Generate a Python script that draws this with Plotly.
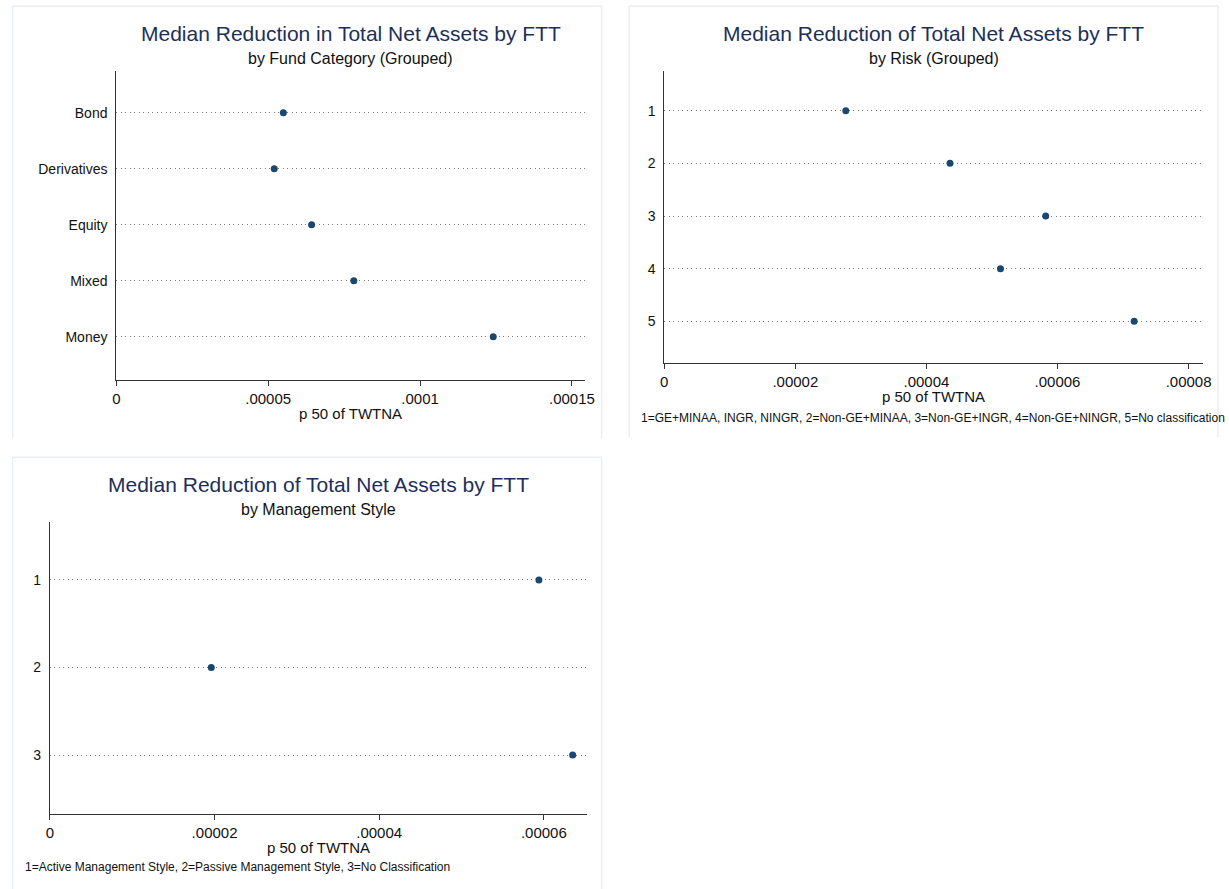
import plotly.graph_objects as go

W, H = 1229, 889

# ---- data ----
fund_categories = ["Bond", "Derivatives", "Equity", "Mixed", "Money"]
fund_p50 = [0.0000550, 0.0000520, 0.0000643, 0.0000782, 0.0001241]

risk_groups = ["1", "2", "3", "4", "5"]
risk_p50 = [0.0000277, 0.0000436, 0.0000582, 0.0000513, 0.0000717]

style_groups = ["1", "2", "3"]
style_p50 = [0.0000594, 0.0000196, 0.0000635]

fund_xticks = [0, 0.00005, 0.0001, 0.00015]
fund_xticklabels = ["0", ".00005", ".0001", ".00015"]
risk_xticks = [0, 0.00002, 0.00004, 0.00006, 0.00008]
risk_xticklabels = ["0", ".00002", ".00004", ".00006", ".00008"]
style_xticks = [0, 0.00002, 0.00004, 0.00006]
style_xticklabels = ["0", ".00002", ".00004", ".00006"]

titles = [
    "Median Reduction in Total Net Assets by FTT",
    "Median Reduction of Total Net Assets by FTT",
    "Median Reduction of Total Net Assets by FTT",
]
subtitles = ["by Fund Category (Grouped)", "by Risk (Grouped)", "by Management Style"]
xtitle = "p 50 of TWTNA"
risk_note = ("1=GE+MINAA, INGR, NINGR, 2=Non-GE+MINAA, 3=Non-GE+INGR, "
             "4=Non-GE+NINGR, 5=No classification")
style_note = "1=Active Management Style, 2=Passive Management Style, 3=No Classification"

# ---- style ----
FONT = "Arial, 'Liberation Sans', sans-serif"
DOT = "#1a476f"
TITLE_C = "#1c2f5c"
AXIS_C = "#333333"
GRID_C = "#7a7a7a"
BORDER_C = "#e9eef2"


def px_x(p):
    return p / W


def px_y(p):
    return 1 - p / H


# panel geometry in pixels: (x0, x1, ytop, ybottom)
panels = [
    dict(x0=113.5, x1=587.5, yt=70.7, yb=380.0, xr=[0, 0.0001544], yr=[5.773, 0.25]),
    dict(x0=667.3, x1=1211.7, yt=70.7, yb=362.7, xr=[0, 0.00008218], yr=[5.786, 0.24]),
    dict(x0=46.4, x1=589.3, yt=521.7, yb=814.0, xr=[0, 0.00006525], yr=[3.674, 0.334]),
]

cats = [fund_categories, risk_groups, style_groups]
vals = [fund_p50, risk_p50, style_p50]
xticks = [fund_xticks, risk_xticks, style_xticks]
xticklabels = [fund_xticklabels, risk_xticklabels, style_xticklabels]

fig = go.Figure()
layout = {}
annotations = []

for i in range(3):
    sfx = "" if i == 0 else str(i + 1)
    p = panels[i]
    ypos = list(range(1, len(cats[i]) + 1))
    fig.add_trace(go.Scatter(
        x=vals[i], y=ypos, mode="markers",
        marker=dict(color=DOT, size=7),
        xaxis="x" + sfx, yaxis="y" + sfx, showlegend=False,
        hovertemplate="%{x}<extra></extra>",
    ))
    layout["xaxis" + sfx] = dict(
        domain=[px_x(p["x0"]), px_x(p["x1"])],
        anchor="y" + sfx, range=p["xr"],
        tickvals=xticks[i], ticktext=xticklabels[i],
        showline=True, linecolor=AXIS_C, linewidth=1,
        ticks="outside", ticklen=5, tickcolor=AXIS_C, tickwidth=1,
        showgrid=False, zeroline=False,
        tickfont=dict(family=FONT, size=15, color="#111111"),
        ticklabelstandoff=0,
    )
    layout["yaxis" + sfx] = dict(
        domain=[px_y(p["yb"]), px_y(p["yt"])],
        anchor="x" + sfx, range=p["yr"],
        tickvals=ypos, ticktext=cats[i],
        showline=True, linecolor=AXIS_C, linewidth=1,
        ticks="", showgrid=True, gridcolor=GRID_C, gridwidth=1,
        griddash="1px,3.5px", zeroline=False,
        tickfont=dict(family=FONT, size=14, color="#111111"),
        ticklabelstandoff=5,
    )
    cx = px_x((p["x0"] + p["x1"]) / 2)
    annotations.append(dict(
        text=titles[i], x=cx, y=px_y(p["yt"] - 37.4), xref="paper", yref="paper",
        xanchor="center", yanchor="middle", showarrow=False,
        font=dict(family=FONT, size=21, color=TITLE_C)))
    annotations.append(dict(
        text=subtitles[i], x=cx, y=px_y(p["yt"] - 12.6), xref="paper", yref="paper",
        xanchor="center", yanchor="middle", showarrow=False,
        font=dict(family=FONT, size=16, color="#111111")))
    annotations.append(dict(
        text=xtitle, x=cx, y=px_y(p["yb"] + 33.5), xref="paper", yref="paper",
        xanchor="center", yanchor="middle", showarrow=False,
        font=dict(family=FONT, size=15, color="#111111")))

annotations.append(dict(
    text=risk_note, x=px_x(641.7), y=px_y(418.3), xref="paper", yref="paper",
    xanchor="left", yanchor="middle", showarrow=False,
    font=dict(family=FONT, size=12, color="#111111")))
annotations.append(dict(
    text=style_note, x=px_x(19), y=px_y(867.3), xref="paper", yref="paper",
    xanchor="left", yanchor="middle", showarrow=False,
    font=dict(family=FONT, size=12, color="#111111")))

# faint panel borders (graph regions)
shapes = []
for (x0, y0, x1, y1) in [(8.7, 6, 604, 438), (632, 6, 1227, 437), (8.7, 457.3, 604, 889)]:
    for (a, b, c, d) in [(x0, y0, x1, y0), (x0, y0, x0, y1), (x1, y0, x1, y1)]:
        shapes.append(dict(type="line", xref="paper", yref="paper",
                           x0=px_x(a), y0=px_y(b), x1=px_x(c), y1=px_y(d),
                           line=dict(color=BORDER_C, width=1.5), layer="below"))

fig.update_layout(
    width=W, height=H,
    margin=dict(l=0, r=0, t=0, b=0),
    paper_bgcolor="white", plot_bgcolor="white",
    annotations=annotations, shapes=shapes,
    font=dict(family=FONT),
    **layout,
)

fig.write_html("out.html")
